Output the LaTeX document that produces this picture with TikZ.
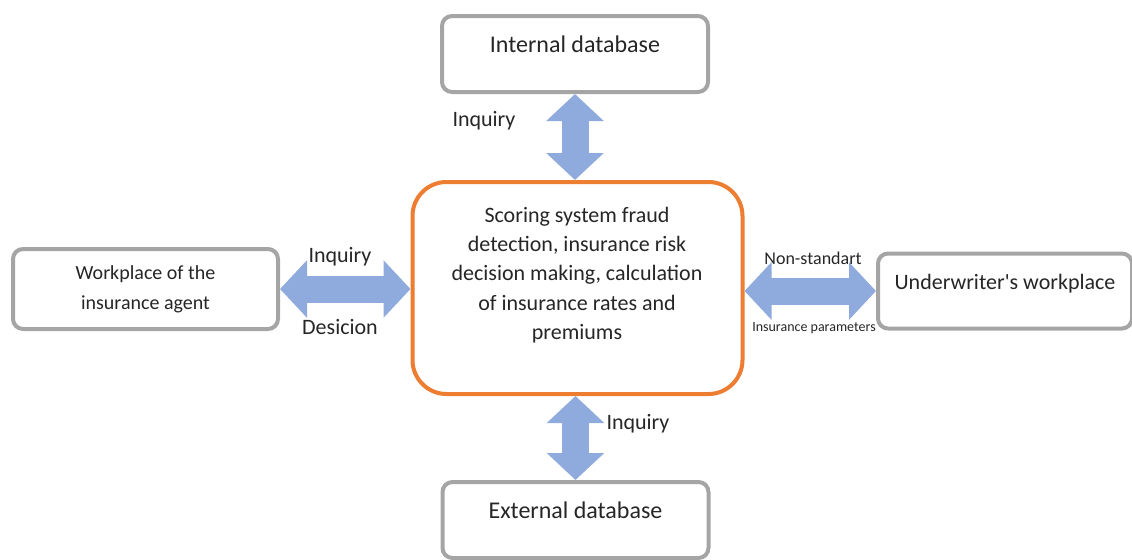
\documentclass[tikz,border=0pt]{standalone}
\usepackage{fontspec}
\setmainfont{Carlito}
\usetikzlibrary{arrows.meta}

\definecolor{boxgray}{HTML}{A5A5A5}
\definecolor{coreorange}{HTML}{ED7D31}
\definecolor{flowblue}{HTML}{8FAADC}
\definecolor{txtgray}{HTML}{262626}

\tikzset{
  box/.style={draw=boxgray, line width=2pt, rounded corners=5pt, fill=white,
    align=center, text=txtgray},
  dbbox/.style={box, minimum width=133pt, minimum height=38pt,
    font=\fontsize{12}{14}\selectfont, text height=8pt, text depth=9.5pt},
  corebox/.style={draw=coreorange, line width=2pt, rounded corners=17pt,
    fill=white, minimum width=165pt, minimum height=106pt},
  flow/.style={draw=flowblue, line width=13.5pt,
    {Triangle[width=28pt,length=13.5pt]}-{Triangle[width=28pt,length=13.5pt]}},
  lbl/.style={text=txtgray, inner sep=0pt, font=\fontsize{11}{13}\selectfont}
}

\begin{document}
\begin{tikzpicture}[x=0.5pt, y=-0.5pt]
  \useasboundingbox (0,0) rectangle (1132,559);

  % Boxes
  \node[corebox] (core) at (577.5,288) {};
  \node[lbl, align=center, font=\fontsize{11}{14.6}\selectfont] (coretext) at (577,275)
    {Scoring system fraud\\detection, insurance risk\\decision making, calculation\\of insurance rates and\\premiums};
  \node[dbbox] (intdb) at (575,54) {Internal database};
  \node[dbbox] (extdb) at (575.5,520) {External database};
  \node[box, minimum width=132.5pt, minimum height=40pt,
    font=\fontsize{10}{15}\selectfont] (agent) at (145.5,289) {Workplace of the\\insurance agent};
  \node[box, minimum width=127pt, minimum height=37.5pt,
    font=\fontsize{11}{13}\selectfont, text height=8pt, text depth=9.5pt] (uw) at (1005,291) {Underwriter\textquotesingle s workplace};

  % Arrows
  \draw[flow] (intdb.south) -- (intdb.south |- core.north);
  \draw[flow] (core.south -| extdb.north) -- (extdb.north);
  \draw[flow] (agent.east) -- (agent.east -| core.west);
  \draw[flow] (core.east |- uw.west) -- (uw.west);

  % Labels
  \node[lbl] (inqtop) at (484,121) {Inquiry};
  \node[lbl] (inqleft) at (340,257) {Inquiry};
  \node[lbl] (desicion) at (340,327) {Desicion};
  \node[lbl, font=\fontsize{9}{11}\selectfont] (nonstd) at (813,258) {Non-standart};
  \node[lbl, font=\fontsize{7}{9}\selectfont] (insparam) at (814,328) {Insurance parameters};
  \node[lbl] (inqbot) at (638,424) {Inquiry};
\end{tikzpicture}
\end{document}
